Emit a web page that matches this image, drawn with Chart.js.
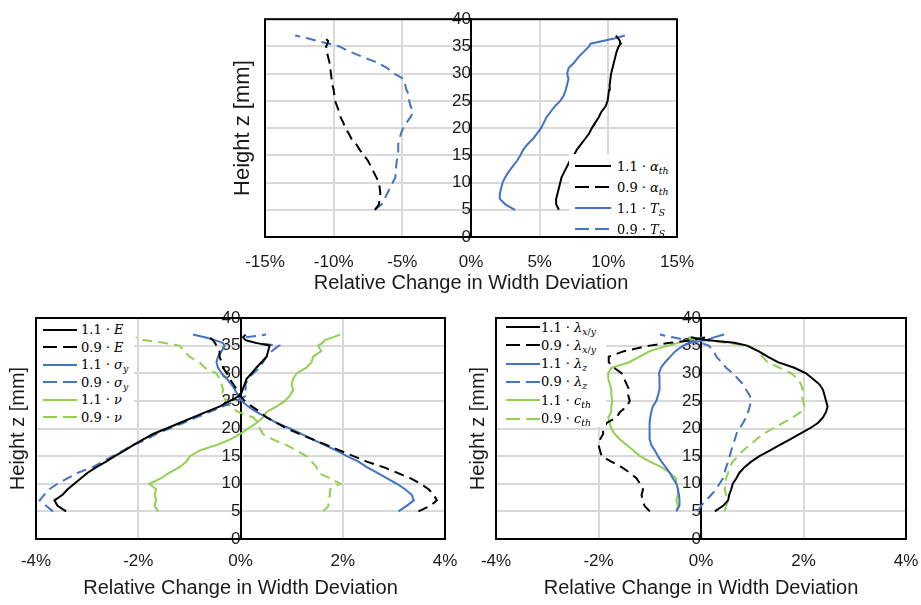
<!DOCTYPE html>
<html>
<head>
<meta charset="utf-8">
<script src="https://cdn.jsdelivr.net/npm/chart.js@4.4.1/dist/chart.umd.min.js"></script>
<style>
  body { margin: 0; background: #fff; }
  #page { position: relative; width: 921px; height: 605px; overflow: hidden; }
  .panel { position: absolute; }
  .legend { position: absolute; background: #fff; font-family: 'DejaVu Serif', serif; font-size: 13px; color: #000; }
  .legend .row { position: absolute; height: 18px; display: flex; align-items: center; white-space: nowrap; }
  .legend svg { display: block; margin-right: 5px; }
  .legend sub { font-size: 0.72em; vertical-align: -0.3em; line-height: 0; }
</style>
</head>
<body>
<div id="page">
  <div class="panel" style="left:225px;top:5px;width:490px;height:295px"><canvas id="topChart"></canvas></div>
  <div class="panel" style="left:0px;top:300px;width:460px;height:305px"><canvas id="leftChart"></canvas></div>
  <div class="panel" style="left:460px;top:300px;width:461px;height:305px"><canvas id="rightChart"></canvas></div>
  <div class="legend" id="topLegend" style="left:569px;top:154px;width:107px;height:82px"></div>
  <div class="legend" id="leftLegend" style="left:37px;top:319px;width:97px;height:108px"></div>
  <div class="legend" id="rightLegend" style="left:497px;top:319px;width:109px;height:108px"></div>
</div>
<script>
Chart.defaults.animation = false;
Chart.defaults.font.family = "'Liberation Sans', Arial, sans-serif";
Chart.defaults.color = '#1a1a1a';

// heights along the wall (mm)
const heights = [5, 6, 7, 8, 9, 10, 11, 12, 13, 14, 15, 16, 17, 18, 19, 20, 21, 22, 23, 24, 25,
  26, 27, 28, 29, 30, 31, 32, 33, 34, 35, 35.5, 36, 36.5, 37];

// top panel: thermal expansion and solidus temperature (% change)
const alphaHi = [6.4, 6.2, 6.2, 6.3, 6.4, 6.5, 6.6, 6.8, 7.0, 7.2, 7.5, 7.7, 8.0, 8.3, 8.6, 8.8, 9.05, 9.3, 9.5, 9.8, 9.95,
  10.0, 10.05, 10.1, 10.15, 10.2, 10.3, 10.4, 10.5, 10.6, 10.75, 10.9, 10.85, 10.7, 10.55];
const alphaLo = [-7.0, -6.7, -6.65, -6.6, -6.65, -6.7, -6.9, -7.1, -7.3, -7.5, -7.8, -8.1, -8.35, -8.7, -8.9, -9.15, -9.3, -9.5, -9.6, -9.75, -9.9,
  -9.95, -10.0, -10.1, -10.15, -10.2, -10.25, -10.3, -10.4, -10.5, -10.55, -10.45, -10.4, -10.6, -10.9];
const tsHi = [3.2, 2.5, 2.1, 2.1, 2.2, 2.3, 2.5, 2.75, 3.05, 3.35, 3.6, 3.8, 4.1, 4.5, 4.8, 5.1, 5.3, 5.5, 5.8, 6.1, 6.5,
  6.75, 6.9, 7.0, 7.1, 7.0, 7.1, 7.5, 7.8, 8.2, 8.6, 8.7, 9.6, 10.5, 11.2];
const tsLo = [-7.0, -6.5, -6.3, -6.1, -5.9, -5.7, -5.5, -5.5, -5.45, -5.4, -5.3, -5.3, -5.3, -5.2, -5.1, -4.95, -4.7, -4.4, -4.2, -4.4, -4.5,
  -4.5, -4.7, -4.8, -4.9, -5.6, -6.1, -6.8, -7.8, -8.8, -9.6, -10.3, -11.2, -11.9, -12.8];

// bottom left: Young's modulus, yield stress, Poisson ratio
const eHi = [-3.41, -3.58, -3.64, -3.48, -3.38, -3.25, -3.12, -2.99, -2.82, -2.63, -2.46, -2.27, -2.1, -1.91, -1.71, -1.45, -1.19, -0.93, -0.67, -0.4, -0.21,
  0.0, 0.04, 0.08, 0.12, 0.22, 0.31, 0.41, 0.51, 0.54, 0.57, 0.3, 0.1, 0.05, 0.1];
const eLo = [3.48, 3.71, 3.84, 3.78, 3.68, 3.52, 3.32, 3.06, 2.8, 2.47, 2.21, 1.95, 1.69, 1.42, 1.16, 0.9, 0.71, 0.51, 0.38, 0.22, 0.08,
  -0.01, -0.07, -0.14, -0.21, -0.27, -0.34, -0.37, -0.41, -0.41, -0.47, -0.5, -0.54, -0.6, -0.67];
const sigmaHi = [3.09, 3.25, 3.39, 3.35, 3.22, 3.06, 2.86, 2.67, 2.47, 2.31, 2.08, 1.88, 1.65, 1.42, 1.2, 0.97, 0.71, 0.51, 0.31, 0.15, 0.02,
  -0.05, -0.11, -0.18, -0.27, -0.37, -0.44, -0.47, -0.44, -0.37, -0.31, -0.35, -0.5, -0.7, -0.93];
const sigmaLo = [-3.67, -3.8, -3.93, -3.84, -3.74, -3.58, -3.38, -3.18, -2.89, -2.69, -2.5, -2.3, -2.1, -1.84, -1.65, -1.39, -1.12, -0.86, -0.6, -0.34, -0.08,
  0.12, 0.1, 0.1, 0.15, 0.25, 0.38, 0.44, 0.51, 0.61, 0.75, 0.3, 0.08, 0.1, 0.5];
const nuHi = [-1.61, -1.68, -1.65, -1.68, -1.65, -1.78, -1.55, -1.39, -1.19, -1.06, -0.99, -0.8, -0.47, -0.21, -0.01, 0.15, 0.31, 0.44, 0.51, 0.71, 0.87,
  0.97, 1.03, 1.0, 1.03, 1.1, 1.29, 1.39, 1.42, 1.58, 1.52, 1.6, 1.65, 1.8, 1.95];
const nuLo = [1.62, 1.72, 1.72, 1.75, 1.75, 1.95, 1.75, 1.52, 1.49, 1.39, 1.29, 1.1, 0.9, 0.64, 0.44, 0.38, 0.35, 0.25, -0.05, -0.21, -0.27,
  -0.37, -0.34, -0.37, -0.41, -0.47, -0.7, -0.8, -1.0, -1.1, -1.19, -1.5, -1.9, -2.05, null];

// bottom right: conductivities and heat capacity
const lamXyHi = [0.27, 0.43, 0.53, 0.55, 0.59, 0.62, 0.69, 0.75, 0.85, 0.98, 1.14, 1.34, 1.53, 1.73, 1.92, 2.12, 2.28, 2.38, 2.44, 2.47, 2.44,
  2.41, 2.38, 2.31, 2.18, 2.05, 1.82, 1.5, 1.3, 1.12, 0.9, 0.65, 0.1, -0.2, null];
const lamXyLo = [-1.0, -1.1, -1.14, -1.16, -1.13, -1.19, -1.26, -1.39, -1.55, -1.75, -1.94, -1.97, -2.0, -1.97, -1.91, -1.91, -1.84, -1.65, -1.58, -1.45, -1.39,
  -1.42, -1.4, -1.45, -1.5, -1.55, -1.7, -1.8, -1.8, -1.5, -1.0, -0.6, -0.15, 0.1, null];
const lamZHi = [-0.48, -0.42, -0.42, -0.43, -0.45, -0.48, -0.55, -0.61, -0.69, -0.77, -0.84, -0.9, -0.97, -1.0, -1.0, -1.01, -1.0, -0.99, -0.97, -0.94, -0.87,
  -0.84, -0.81, -0.81, -0.81, -0.82, -0.78, -0.7, -0.6, -0.5, -0.35, -0.2, 0.1, 0.25, 0.45];
const lamZLo = [-0.06, 0.0, 0.1, 0.2, 0.3, 0.36, 0.43, 0.46, 0.49, 0.53, 0.56, 0.59, 0.62, 0.66, 0.69, 0.75, 0.82, 0.88, 0.92, 0.95, 0.98,
  0.95, 0.88, 0.82, 0.72, 0.62, 0.49, 0.4, 0.3, 0.25, 0.15, 0.0, -0.3, -0.55, -0.8];
const cthHi = [-0.48, -0.45, -0.48, -0.45, -0.45, -0.48, -0.49, -0.61, -0.77, -1.0, -1.19, -1.32, -1.45, -1.58, -1.68, -1.75, -1.78, -1.81, -1.75, -1.75, -1.73,
  -1.75, -1.75, -1.78, -1.81, -1.81, -1.75, -1.4, -1.2, -1.0, -0.65, -0.45, -0.2, 0.05, null];
const cthLo = [0.46, 0.49, 0.53, 0.49, 0.46, 0.49, 0.49, 0.53, 0.56, 0.62, 0.72, 0.82, 0.95, 1.08, 1.21, 1.4, 1.6, 1.79, 1.95, 2.02, 1.99,
  1.97, 1.99, 1.95, 1.89, 1.76, 1.53, 1.3, 1.2, 1.1, 0.9, 0.5, 0.05, -0.25, null];

const BLACK = '#000000';
const BLUE = '#4472c4';
const GREEN = '#92d050';
const GRID = '#d9d9d9';

// black box around each plot area
const frame = {
  id: 'frame',
  beforeDatasetsDraw(chart) {
    const { ctx, chartArea: a } = chart;
    ctx.save();
    ctx.strokeStyle = '#000';
    ctx.lineWidth = 2;
    ctx.strokeRect(a.left, a.top, a.right - a.left, a.bottom - a.top);
    ctx.restore();
  }
};

function series(label, vals, color, dashed) {
  return {
    label: label,
    data: heights.map((h, i) => ({ x: vals[i], y: h })).filter(p => p.x !== null),
    borderColor: color,
    borderWidth: 2,
    borderDash: dashed ? [10, 6] : [],
    pointRadius: 0,
    showLine: true,
    fill: false
  };
}

function drawPanel(id, sets, o) {
  new Chart(document.getElementById(id), {
    type: 'scatter',
    data: { datasets: sets },
    options: {
      responsive: true,
      maintainAspectRatio: false,
      layout: { padding: { top: o.padTop, right: o.padRight, left: 0, bottom: 0 } },
      plugins: { legend: { display: false }, tooltip: { enabled: false } },
      scales: {
        x: {
          type: 'linear', position: 'bottom', min: -o.span, max: o.span,
          ticks: { stepSize: o.step, padding: o.tickPad, font: { size: 17 }, callback: v => v + '%' },
          grid: { color: GRID, lineWidth: 2, drawTicks: false },
          border: { display: false },
          title: { display: true, text: 'Relative Change in Width Deviation', font: { size: 20 }, padding: { top: 0, bottom: o.xTitlePad } },
          afterFit: s => { s.height = o.xHeight; s.paddingLeft = 0; s.paddingRight = 0; }
        },
        y: {
          type: 'linear', position: { x: 0 }, min: 0, max: 40,
          ticks: { stepSize: 5, padding: 4, font: { size: 17 } },
          grid: { color: GRID, lineWidth: 2, drawTicks: false },
          border: { color: '#000', width: 2 },
          afterFit: s => { s.width = 0; }
        },
        yTitle: {
          type: 'linear', position: 'left', display: true, min: 0, max: 40,
          ticks: { display: false },
          grid: { display: false },
          border: { display: false },
          title: { display: true, text: 'Height z [mm]', font: { size: o.yTitleSize }, padding: { top: o.yTitlePad, bottom: 0 } },
          afterFit: s => { s.width = o.titleWidth; }
        }
      }
    },
    plugins: [frame]
  });
}

function drawLegend(id, items, o) {
  const box = document.getElementById(id);
  items.forEach((it, i) => {
    const row = document.createElement('div');
    row.className = 'row';
    row.style.left = o.lineX + 'px';
    row.style.top = (o.firstY + i * o.stepY - 9) + 'px';
    const dash = it.borderDash.length ? 'stroke-dasharray="14 6"' : '';
    row.innerHTML = '<svg width="' + o.lineW + '" height="6"><line x1="0" y1="3" x2="' + o.lineW +
      '" y2="3" stroke="' + it.borderColor + '" stroke-width="2" ' + dash + '/></svg><span>' + it.label + '</span>';
    row.querySelector('svg').style.marginRight = o.gap + 'px';
    box.appendChild(row);
  });
}

const topSets = [
  series('1.1 · <i>α</i><sub><i>th</i></sub>', alphaHi, BLACK, false),
  series('0.9 · <i>α</i><sub><i>th</i></sub>', alphaLo, BLACK, true),
  series('1.1 · <i>T</i><sub><i>S</i></sub>', tsHi, BLUE, false),
  series('0.9 · <i>T</i><sub><i>S</i></sub>', tsLo, BLUE, true)
];
const leftSets = [
  series('1.1 · <i>E</i>', eHi, BLACK, false),
  series('0.9 · <i>E</i>', eLo, BLACK, true),
  series('1.1 · <i>σ</i><sub><i>y</i></sub>', sigmaHi, BLUE, false),
  series('0.9 · <i>σ</i><sub><i>y</i></sub>', sigmaLo, BLUE, true),
  series('1.1 · <i>ν</i>', nuHi, GREEN, false),
  series('0.9 · <i>ν</i>', nuLo, GREEN, true)
];
const rightSets = [
  series('1.1 · <i>λ</i><sub><i>x</i>/<i>y</i></sub>', lamXyHi, BLACK, false),
  series('0.9 · <i>λ</i><sub><i>x</i>/<i>y</i></sub>', lamXyLo, BLACK, true),
  series('1.1 · <i>λ</i><sub><i>z</i></sub>', lamZHi, BLUE, false),
  series('0.9 · <i>λ</i><sub><i>z</i></sub>', lamZLo, BLUE, true),
  series('1.1 · <i>c</i><sub><i>th</i></sub>', cthHi, GREEN, false),
  series('0.9 · <i>c</i><sub><i>th</i></sub>', cthLo, GREEN, true)
];

drawPanel('topChart', topSets, {
  padTop: 10, padRight: 38, span: 15, step: 5, tickPad: 15, xTitlePad: 4.5, xHeight: 63,
  yTitleSize: 22, yTitlePad: 5, titleWidth: 40
});
drawPanel('leftChart', leftSets, {
  padTop: 18, padRight: 15, span: 4, step: 2, tickPad: 12.5, xTitlePad: 5, xHeight: 66,
  yTitleSize: 20, yTitlePad: 6, titleWidth: 36
});
drawPanel('rightChart', rightSets, {
  padTop: 18, padRight: 15, span: 4, step: 2, tickPad: 12.5, xTitlePad: 5, xHeight: 66,
  yTitleSize: 20, yTitlePad: 6, titleWidth: 36
});

drawLegend('topLegend', topSets, { lineX: 6, lineW: 36, gap: 6, firstY: 12, stepY: 21 });
drawLegend('leftLegend', leftSets, { lineX: 6, lineW: 34, gap: 4, firstY: 10.5, stepY: 17.5 });
drawLegend('rightLegend', rightSets, { lineX: 9, lineW: 34, gap: 1, firstY: 8, stepY: 18.3 });
</script>
</body>
</html>
